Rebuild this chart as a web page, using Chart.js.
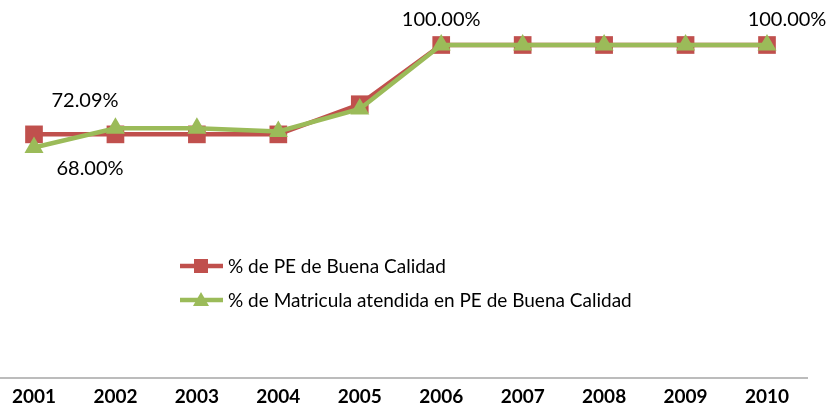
<!DOCTYPE html>
<html>
<head>
<meta charset="utf-8">
<script src="https://cdn.jsdelivr.net/npm/chart.js@4.4.1/dist/chart.umd.min.js"></script>
<style>
  html, body { margin: 0; padding: 0; background: #fff; }
  canvas { display: block; }
</style>
</head>
<body>
<canvas id="grafico" width="826" height="416"></canvas>
<script>
// datos
const anios = ['2001', '2002', '2003', '2004', '2005', '2006', '2007', '2008', '2009', '2010'];
const peBuenaCalidad = [72.09, 72.09, 72.09, 72.09, 81.5, 100, 100, 100, 100, 100];
const matriculaAtendida = [68.00, 74.0, 74.0, 73.0, 80.0, 100, 100, 100, 100, 100];
const nombres = ['% de PE de Buena Calidad', '% de Matricula atendida en PE de Buena Calidad'];

const ROJO = '#C0504D';
const VERDE = '#9BBB59';

// etiquetas que aparecen en el grafico original
const etiquetas = [
  { ds: 0, i: 0, dx: 51, dy: -34 },
  { ds: 1, i: 0, dx: 56, dy: 21 },
  { ds: 0, i: 5, dx: 0, dy: -25 },
  { ds: 0, i: 9, dx: 20, dy: -25 }
];

const pluginEtiquetas = {
  id: 'etiquetas',
  afterDatasetsDraw(chart) {
    const ctx = chart.ctx;
    ctx.save();
    ctx.font = '20px Lato';
    ctx.fillStyle = '#000';
    ctx.textAlign = 'center';
    ctx.textBaseline = 'middle';
    etiquetas.forEach(function (e) {
      const p = chart.getDatasetMeta(e.ds).data[e.i];
      const v = chart.data.datasets[e.ds].data[e.i];
      ctx.fillText(v.toFixed(2) + '%', p.x + e.dx, p.y + e.dy);
    });
    ctx.restore();
  }
};

// eje inferior y leyenda dibujados a mano
const pluginLeyenda = {
  id: 'leyenda',
  afterDraw(chart) {
    const ctx = chart.ctx;
    const y0 = chart.chartArea.bottom;
    ctx.save();
    ctx.strokeStyle = '#A6A6A6';
    ctx.lineWidth = 1.5;
    ctx.beginPath();
    ctx.moveTo(0, y0);
    ctx.lineTo(808, y0);
    ctx.stroke();

    const filas = [266, 300];
    chart.data.datasets.forEach(function (ds, k) {
      const y = filas[k];
      ctx.strokeStyle = ds.borderColor;
      ctx.lineWidth = 4.5;
      ctx.beginPath();
      ctx.moveTo(180, y);
      ctx.lineTo(223, y);
      ctx.stroke();
      ctx.fillStyle = ds.borderColor;
      ctx.beginPath();
      if (ds.pointStyle === 'rect') {
        ctx.rect(194, y - 7, 14, 14);
      } else {
        ctx.moveTo(201, y - 8);
        ctx.lineTo(209, y + 6);
        ctx.lineTo(193, y + 6);
        ctx.closePath();
      }
      ctx.fill();
      ctx.fillStyle = '#000';
      ctx.font = '19px Lato';
      ctx.textAlign = 'left';
      ctx.textBaseline = 'middle';
      ctx.fillText(ds.label, 228, y + 1);
    });
    ctx.restore();
  }
};

new Chart(document.getElementById('grafico'), {
  type: 'line',
  data: {
    labels: anios,
    datasets: [{
      label: nombres[0],
      data: peBuenaCalidad,
      borderColor: ROJO,
      backgroundColor: ROJO,
      borderWidth: 4.5,
      pointStyle: 'rect',
      pointRadius: 12.5,
      pointBorderWidth: 0,
      order: 2,
      clip: false
    }, {
      label: nombres[1],
      data: matriculaAtendida,
      borderColor: VERDE,
      backgroundColor: VERDE,
      borderWidth: 4.5,
      pointStyle: 'triangle',
      pointRadius: 11,
      pointBorderWidth: 0,
      order: 1,
      clip: false
    }]
  },
  options: {
    responsive: false,
    animation: false,
    layout: { padding: { top: 45, left: 34, right: 59, bottom: 1 } },
    plugins: {
      legend: { display: false },
      tooltip: { enabled: false }
    },
    scales: {
      x: {
        offset: false,
        grid: { display: false, drawTicks: false },
        border: { display: false },
        ticks: {
          padding: 9,
          color: '#000',
          font: { family: 'Lato', size: 19, weight: 'bold', lineHeight: 1.0 },
          maxRotation: 0,
          autoSkip: false
        }
      },
      y: {
        display: false,
        min: -4,
        max: 100
      }
    }
  },
  plugins: [pluginEtiquetas, pluginLeyenda]
});
</script>
</body>
</html>
